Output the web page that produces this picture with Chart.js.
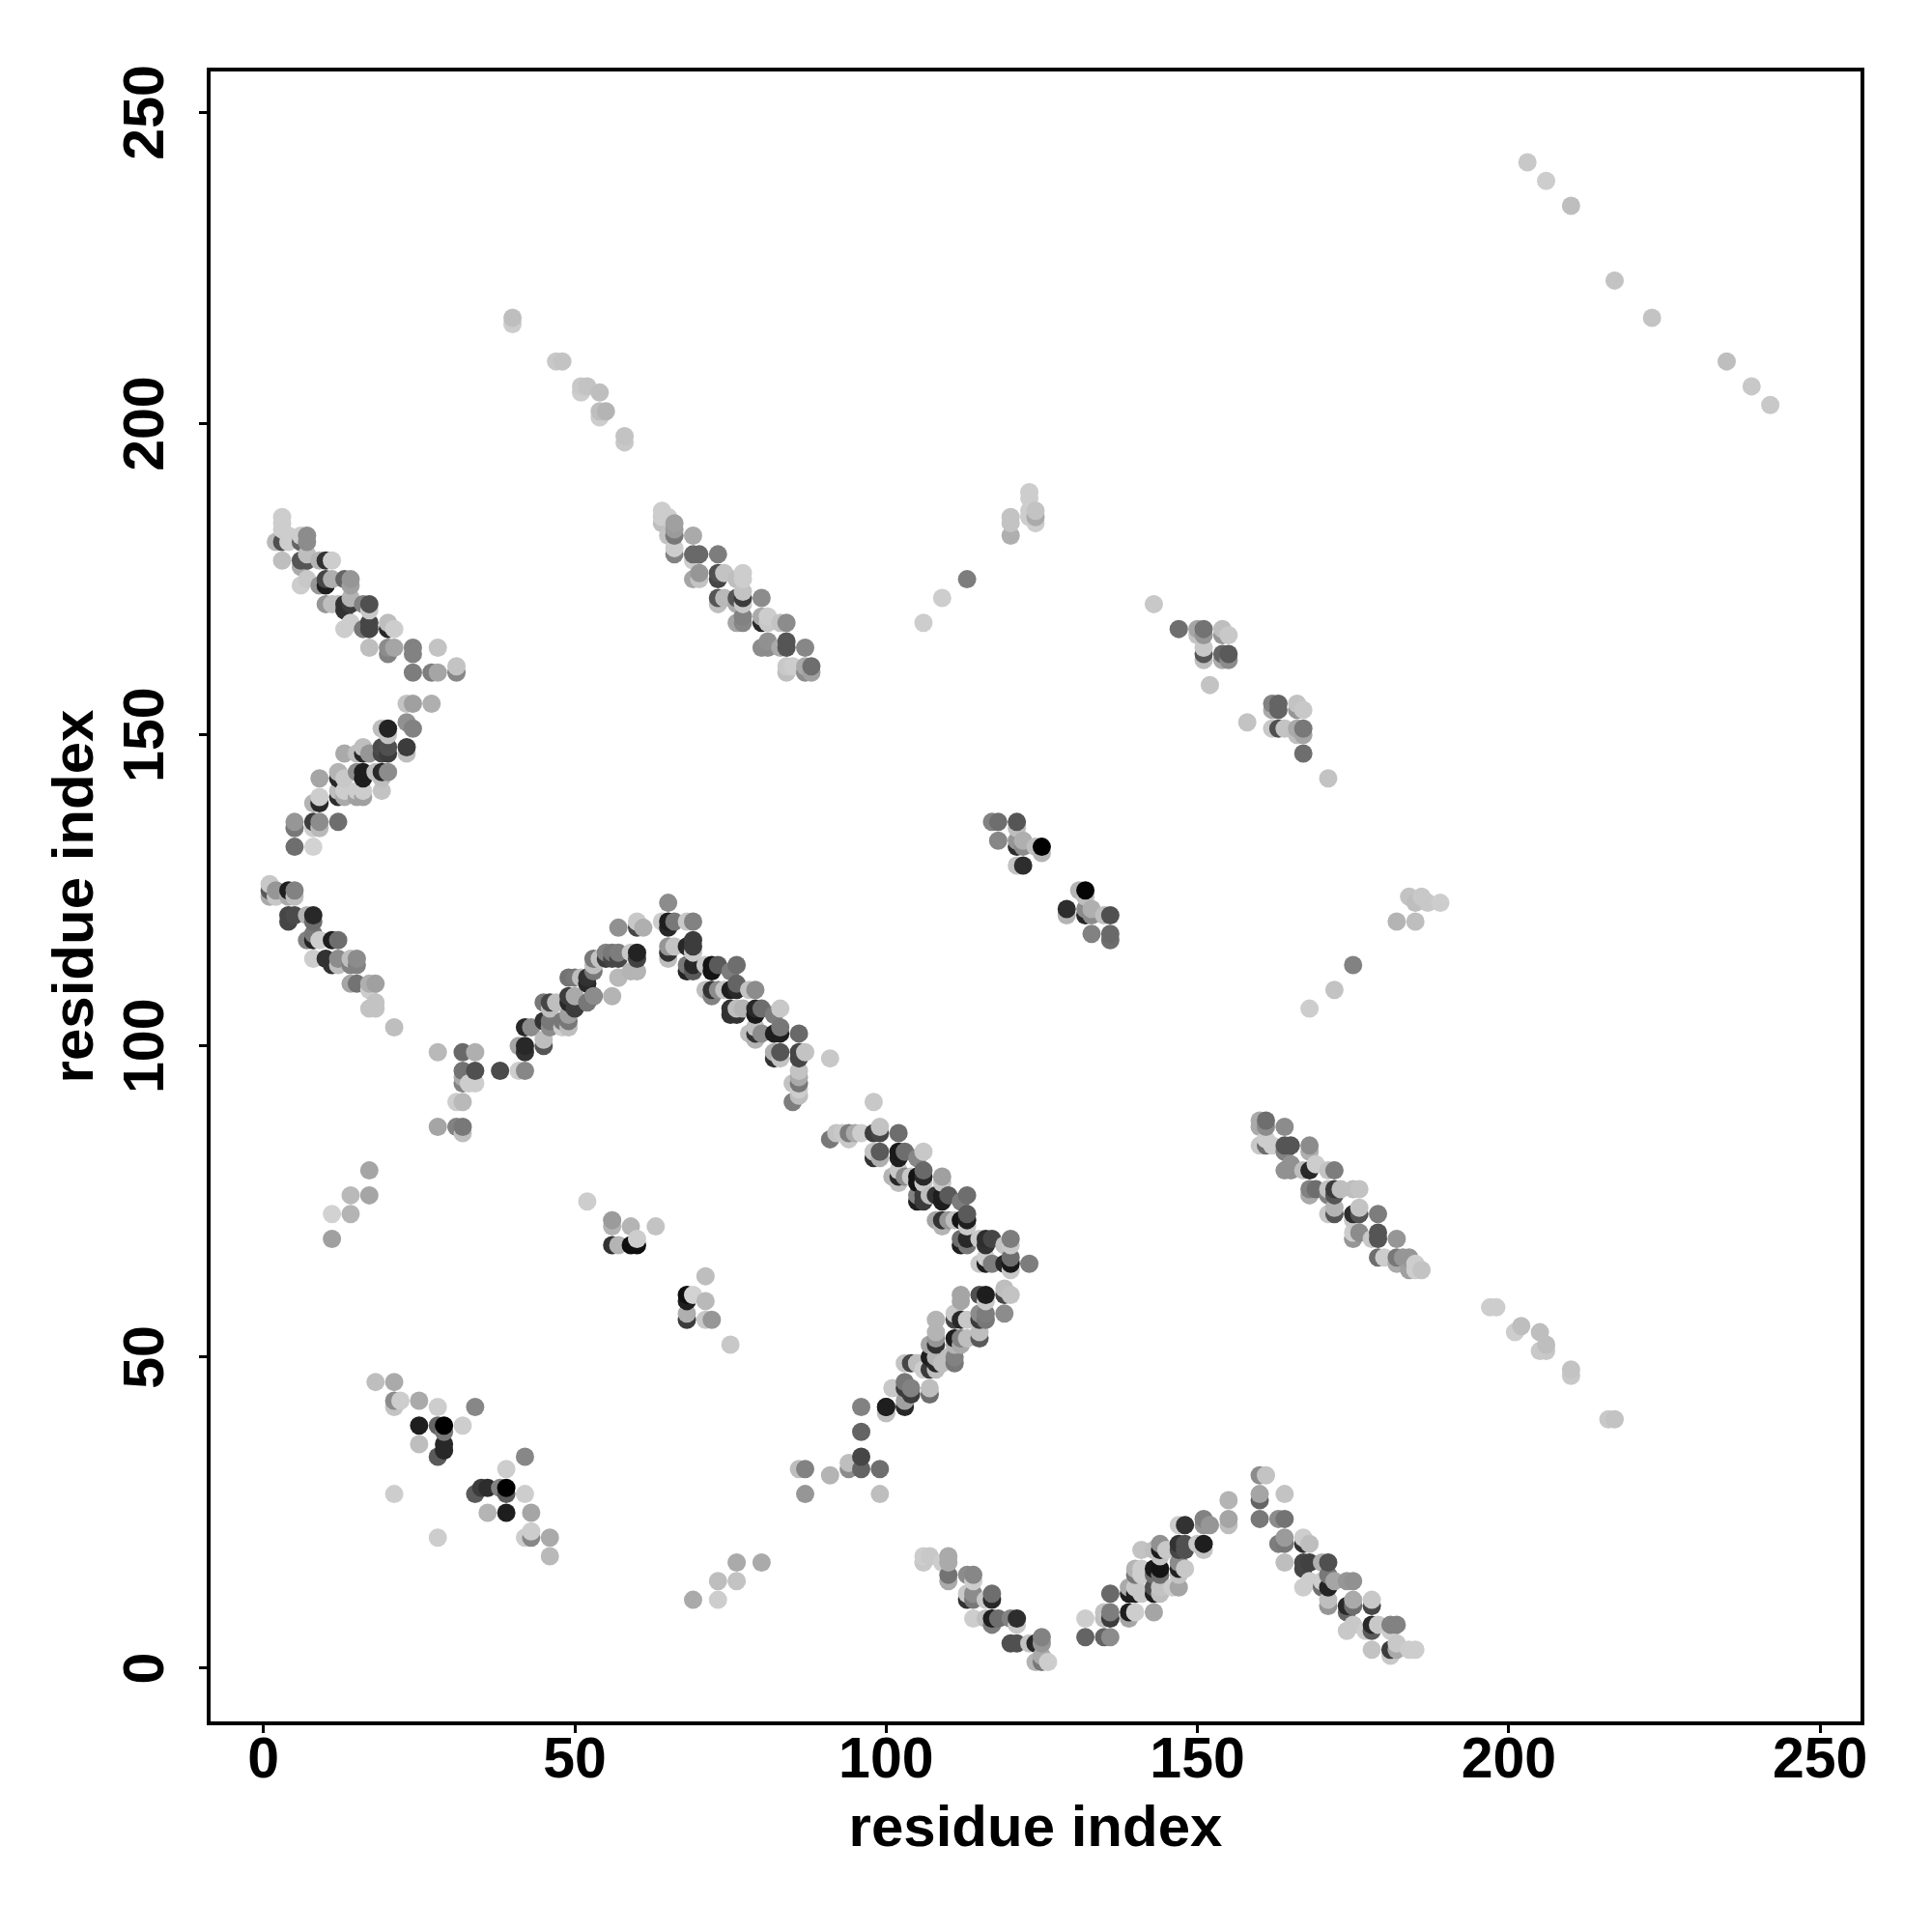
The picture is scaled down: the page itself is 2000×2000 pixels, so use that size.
<!DOCTYPE html>
<html><head><meta charset="utf-8"><style>html,body{margin:0;padding:0;background:#fff}canvas{display:block}</style>
<script src="https://cdn.jsdelivr.net/npm/chart.js@4/dist/chart.umd.min.js"></script></head>
<body><canvas id="c" width="2000" height="2000"></canvas>
<script>
const tickValues=[0,50,100,150,200,250];
const axisTitle="residue index";
// each region: residue i, residue j, signal (grey level of the contact)
const topLeftI=[3,3,3,2,3,4,4,7,7,6, 6,3,6,7,7,6,10,9,11,6, 7,9,10,10,11,13,14,14,10,11, 12,13,13,14,14,16,17,17,13,14, 16,17,17,20,20,21,17,20,20,21, 24,24,28,24,27,28,31,31];
const topLeftJ=[185,184,183,181,181,182,181,182,181,182, 181,178,178,178,179,177,178,178,178,174, 175,174,174,175,175,175,175,174,171,171, 171,171,170,171,172,171,171,170,167,168, 167,168,167,168,167,167,164,164,163,164, 164,163,164,160,160,160,161,160];
const topLeftS=[205,205,205,185,80,205,205,140,140,205, 100,190,85,85,190,170,50,180,205,205, 200,150,30,70,175,100,150,160,150,190, 190,50,50,60,180,130,80,200,205,205, 120,70,70,190,40,205,190,140,130,165, 130,130,195,125,125,165,195,135];

const riseAI=[23,24,27,23,24,19,20,20,23,23, 19,20,20,19,16,17,15,16,13,20, 19,18,19,19,16,16,15,16,16,15, 15,12,12,13,13,12,13,12,9,9, 9,8,5,5,8,9,8,9,12,5, 8];
const riseAJ=[155,155,155,152,151,151,151,150,148,147, 148,148,147,147,148,147,147,147,147,144, 144,144,141,143,144,143,144,141,140,141, 140,144,143,143,141,141,140,140,143,140, 139,139,136,135,136,136,135,135,136,132, 132];
const riseAS=[195,160,175,145,130,190,35,195,60,190, 75,80,60,70,190,150,190,40,170,140, 40,190,195,190,30,30,140,205,160,205, 160,180,40,200,205,190,170,45,165,205, 40,180,150,120,60,140,205,185,110,110, 210];

const fallAI=[1,1,1,2,2,4,4,5,5,4, 4,5,7,8,8,7,8,8,9,8, 11,12,10,11,12,12,14,15,15,14, 14,15,17,18,17,18,17,18,21];
const fallAJ=[126,125,124,125,124,125,124,125,124,121, 120,121,121,121,120,117,118,117,117,114, 117,117,114,113,114,113,114,114,113,113, 110,110,110,110,109,107,106,106,103];
const fallAS=[200,90,170,150,200,30,170,130,190,70, 70,75,180,40,110,130,120,35,205,205, 30,110,50,50,140,190,190,140,130,130, 165,115,175,160,205,195,195,195,190];

const midAI=[28,32,34,32,34,32,32,33,34,31, 32,28,31,32,32,38,41,42,41,42, 42,42,43,45,45,45,46,46,45,46, 46,47,48,48,49,49,49,49,50,50, 49,49,50,52,53,53,52,53,53,53, 54,51,52];
const midAJ=[99,99,99,96,96,95,94,94,94,91, 91,87,87,87,86,96,96,96,100,100, 99,103,103,101,100,104,104,103,107,107, 106,107,104,103,104,103,105,107,106,108, 108,111,111,107,108,108,110,112,113,114, 114,111,111];
const midAS=[185,105,175,115,80,170,130,205,205,205, 185,165,130,120,190,75,205,135,165,40, 50,40,140,190,85,50,120,140,120,70, 190,190,120,205,120,190,160,40,60,170, 60,115,120,120,60,140,40,120,190,120, 195,190,50];

const peakAI=[56,57,57,59,60,56,56,57,57,55, 55,59,60,60,57,60,60,61,65,64, 65,65,66,68,69,65,65,66,65,68, 69,69,69,68,68,69,69,71,72,72, 73,71,72,72,73];
const peakAJ=[108,111,111,112,112,115,114,115,114,115, 114,115,115,114,119,120,119,119,123,120, 120,119,120,120,120,116,115,116,114,116, 117,116,115,113,112,113,112,113,113,112, 113,109,109,108,109];
const peakAS=[180,205,185,180,180,120,70,125,70,130, 60,200,35,65,145,200,70,175,140,205, 30,40,120,200,130,150,50,195,190,40, 60,60,200,120,35,40,90,200,20,20, 90,190,50,130,140];

const fallBI=[76,75,74,75,76,76,78,79,75,75, 76,76,77,79,79,80,83,82,78,79, 79,80,79,82,83,83,86,82,82,83, 83,86,86,87,91,86,86,86,85,86, 86,85];
const fallBJ=[113,112,109,109,110,109,109,109,106,105, 106,105,106,106,105,106,106,105,102,103, 102,102,101,102,103,102,102,99,98,99, 98,99,98,99,98,96,95,94,94,93, 92,91];
const fallBS=[110,125,195,30,100,40,195,140,50,50, 190,50,180,40,25,110,200,125,190,190, 50,140,180,30,120,30,105,175,50,85, 195,70,70,195,200,195,170,120,195,205, 190,125];

const fallCI=[98,91,92,93,94,94,95,96,98,99, 99,102,98,98,99,99,102,102,103,106, 105,101,102,102,103,102,104,105,105,106, 106,106,109,109,105,105,106,106,107,108, 109,109,110,112,113,108,109,109,110,111, 112,113,113,113,112,112,113,113,115,116, 116,117,120,120,119,115,116,116,117,119, 120,120,120,123];
const fallCJ=[91,85,86,86,85,86,86,86,86,87, 86,86,83,82,83,82,83,82,83,83, 82,79,80,79,79,78,79,79,78,80, 79,78,79,78,76,75,76,75,76,76, 76,75,76,75,76,72,72,71,72,72, 72,73,72,71,69,68,69,68,69,69, 68,69,69,68,68,65,65,66,65,65, 66,65,64,65];
const fallCS=[200,120,195,200,200,125,170,205,60,195, 70,110,195,50,90,175,25,30,110,200, 135,180,200,40,140,190,200,20,20,105, 40,200,160,200,130,30,60,60,190,50, 30,30,90,125,110,165,50,180,150,190, 20,90,30,200,110,30,40,120,200,45, 50,70,125,200,195,200,30,205,125,40, 110,25,200,125];

const riseBI=[112,112,115,116,116,119,119,120,119,108, 111,111,112,113,115,115,116,116,115,115, 107,108,108,111,112,112,113,103,103,100, 100,103,103,104,104,101,107,107,107,106, 105,104,103,105,108,107,108,108,109,110, 111,111,111,108,96,100,100,96,96,96, 94,99,99,94,91,87,86,87];
const riseBJ=[60,59,60,60,59,61,60,60,57,56, 57,56,56,56,57,56,57,56,54,53, 52,53,52,53,53,52,53,43,42,42, 41,46,45,45,44,45,48,45,44,48, 49,49,49,49,48,50,50,49,49,50, 50,49,52,54,42,42,41,38,34,32, 33,32,28,32,31,32,32,28];
const riseBS=[165,165,80,30,200,190,70,195,140,180, 200,70,40,200,140,60,125,120,190,90, 165,150,50,30,130,170,190,160,40,30, 190,120,60,130,60,200,60,190,110,205, 205,70,195,190,190,30,180,40,190,190, 130,120,180,180,130,30,190,100,70,100, 190,110,190,140,180,130,190,150];

const fallDI=[106,106,107,110,110,109,110,110,113,114, 114,113,113,114,114,117,117,116,114,116, 117,117,118,120,121,121,120,121,123,124, 125,125,124,125,125,126];
const fallDJ=[18,17,18,18,17,17,15,14,15,15, 14,11,12,12,11,12,11,11,8,8, 8,7,8,8,8,7,4,4,4,4, 5,4,1,2,1,1];
const fallDS=[205,200,200,170,170,205,115,170,140,135, 205,50,200,140,120,110,40,200,205,190, 30,125,110,130,45,200,80,80,195,40, 130,150,180,170,120,205];

const riseCI=[132,135,136,132,135,135,136,136,139,139, 140,143,136,139,139,140,140,141,143,143, 144,144,147,146,140,140,141,141,143,144, 143,144,147,147,148,147,141,143,144,144, 145,144,147,147,148,148,150,151,151,147, 148,151,151,152,155,155,155];
const riseCJ=[5,5,5,8,9,8,9,8,9,8, 9,9,12,13,12,13,12,12,13,12, 13,12,13,13,16,15,16,15,16,16, 15,15,17,16,16,15,19,19,20,19, 19,18,20,19,20,19,20,20,19,23, 23,24,23,23,27,24,23];
const riseCS=[100,100,140,205,195,190,125,60,30,165, 205,165,105,170,30,200,30,200,80,30, 195,190,165,205,180,120,205,205,25,20, 110,110,140,35,200,195,195,190,145,30, 200,195,50,70,80,80,200,30,195,205, 50,130,150,150,180,165,190];

const fallEI=[160,161,160,160,164,160,163,164,163,164, 164,167,167,168,164,167,168,167,167,168, 171,170,170,171,170,171,172,171,171,174, 175,175,174,175,174,178,178,174,175,177, 178,178,179,181,182,181,178,181,181,182, 182,184,185];
const fallEJ=[31,31,28,27,28,24,24,24,20,21, 20,21,20,20,17,17,17,16,13,14, 17,17,14,15,13,13,14,11,10,14, 14,11,10,10,9,11,10,6,7,6, 7,6,7,7,7,6,3,3,2,4, 3,3,3];
const fallES=[140,195,165,100,195,120,140,115,125,155, 120,205,50,190,190,70,65,70,205,205, 80,175,205,120,110,35,165,190,150,150, 145,170,40,110,100,200,70,200,200,205, 40,90,200,130,130,205,195,60,200,200, 170,205,205];

const fallFI=[160,161,160,161,164,160,161,161,162,164, 165,164,164,165,165,168,168,167,168,169, 171,172,168,169,168,171,171,172,172,173, 175,176,171,172,172,175,176,176,175,179];
const fallFJ=[88,88,87,87,87,84,84,85,84,84, 84,83,80,80,81,84,83,80,80,81, 80,80,77,77,76,77,76,77,76,77, 77,77,73,74,73,73,74,73,72,73];
const fallFS=[170,110,170,140,140,200,110,205,205,85, 85,130,145,145,145,140,175,190,40,205, 195,125,130,110,170,195,130,60,85,190, 190,195,200,180,85,45,195,85,200,125];

const fallGI=[175,175,176,178,179,179,182,179,180,182, 182,183,184,184,185,186,185];
const fallGJ=[70,69,70,69,70,69,69,66,66,66, 65,66,66,64,65,64,64];
const fallGS=[205,150,140,200,85,85,150,110,205,120, 170,150,150,160,205,195,205];

const clusterHI=[147,150,150,151,151,154,154,155,151,151, 151,154,155,154,155,152,158,162,162,163, 163,166,166,167,162,163,164,166,167,167, 166,167,171,143,168,172,175];
const clusterHJ=[167,167,166,167,166,167,166,166,164,163, 162,163,163,162,162,158,152,155,154,155, 154,155,154,154,151,151,151,151,151,150, 150,147,143,171,106,109,113];
const clusterHS=[110,165,195,115,150,190,150,200,200,85, 190,100,90,170,140,195,195,130,170,100, 100,195,150,200,200,80,195,170,120,165, 190,110,195,200,205,195,130];

const clusterII=[117,118,121,121,118,121,121,122,122,124, 125,125,121,122,131,132,132,129,129,132, 132,133,133,135,136,133,136,136];
const clusterIJ=[136,136,136,135,133,133,132,133,132,132, 132,131,129,129,125,125,124,122,121,122, 121,122,121,121,121,118,118,117];
const clusterIS=[130,110,85,190,135,150,45,175,140,190, 0,180,195,45,180,5,190,45,180,140, 40,175,140,190,80,130,105,110];

const midBI=[64,64,64,65,66,66,66,65,69,66, 66,69,70,69,73,69,70,70,73,73, 74,76,77,77,77,73,73,74,76,76, 77,80,77,76,77,77,80,80,81,81, 83,84,80,81,81,83,84,84,87,84, 84,85,87,87,88,88];
const midBJ=[186,185,184,185,184,183,182,182,182,180, 179,179,179,178,179,175,176,175,176,175, 176,175,176,175,173,172,171,172,172,171, 172,172,171,168,169,168,169,168,169,168, 168,168,164,165,164,164,165,164,164,161, 160,161,160,161,161,160];
const midBS=[205,205,190,205,160,155,120,195,170,205, 130,105,105,205,125,165,150,195,80,70, 195,190,205,205,195,85,190,185,85,170, 60,140,200,165,130,135,170,40,205,200, 195,140,140,145,140,170,85,85,135,200, 190,205,140,170,110,160];

const upperI=[106,109,113,120,120,120,123,123,123,124, 124,124,123, 40,40,47,48,51,52,51, 54,54,55,54,58,58, 203,206,210,217,223,235,239, 242];
const upperJ=[168,172,175,185,184,182,189,188,186,186, 185,184,185, 217,216,210,210,206,206,205, 205,202,202,201,198,197, 242,239,235,223,217,210,206, 203];
const upperS=[205,205,125,195,195,175,205,205,205,195, 170,205,205, 190,205,200,195,200,195,205, 190,190,180,205,195,200, 200,205,190,195,195,190,200, 200];

const lowerRightI=[197,198,201,202,205,205,206,206,210,210, 216,217,182,185,184,185,186,187,189];
const lowerRightJ=[58,58,54,55,54,51,51,52,48,47, 40,40,120,120,124,123,124,123,123];
const lowerRightS=[205,205,205,190,190,200,200,190,195,200, 200,195,180,190,195,190,200,200,205];

const lowerLeftI=[18,21,21,21,22,25,28,34,25,28, 29,29,32,25,29,29,28,42,39,34, 35,36,38,39,39,42,21,36,39,43, 28,42,43,43,46,46];
const lowerLeftJ=[46,46,43,42,43,43,42,42,39,39, 39,38,39,36,36,35,34,34,32,28, 29,29,29,29,28,28,28,25,25,25, 21,21,22,21,21,18];
const lowerLeftS=[190,170,140,195,205,170,205,135,30,100, 0,120,205,190,40,40,90,135,205,90, 60,45,130,0,90,205,205,180,30,165, 205,205,205,135,170,185];

const looseI=[17,14,17,11,14,11,52,56,56,59, 63,56,57,59,60,60,71,68,68,69, 71,68,68,71,72,75,69,73,76,80, 76,73];
const looseJ=[80,76,76,73,73,69,75,72,71,71, 71,68,68,68,68,69,63,60,59,60, 59,57,56,56,56,52,11,14,17,17, 14,11];
const looseS=[165,185,165,210,180,160,205,155,180,180, 195,50,180,15,15,205,190,15,30,210, 185,175,60,200,150,200,170,190,170,170, 195,205];

const regions=[[topLeftI,topLeftJ,topLeftS],[riseAI,riseAJ,riseAS],[fallAI,fallAJ,fallAS],[midAI,midAJ,midAS],[peakAI,peakAJ,peakAS],[fallBI,fallBJ,fallBS],[fallCI,fallCJ,fallCS],[riseBI,riseBJ,riseBS],[fallDI,fallDJ,fallDS],[riseCI,riseCJ,riseCS],[fallEI,fallEJ,fallES],[fallFI,fallFJ,fallFS],[fallGI,fallGJ,fallGS],[clusterHI,clusterHJ,clusterHS],[clusterII,clusterIJ,clusterIS],[midBI,midBJ,midBS],[upperI,upperJ,upperS],[lowerRightI,lowerRightJ,lowerRightS],[lowerLeftI,lowerLeftJ,lowerLeftS],[looseI,looseJ,looseS]];
const points=[];
regions.forEach((r,k)=>{
  if(r[0].length!==r[1].length||r[0].length!==r[2].length) throw new Error("length mismatch in region "+k+": "+r[0].length+","+r[1].length+","+r[2].length);
  r[0].forEach((v,i)=>points.push({x:v,y:r[1][i],s:r[2][i]}));
});
points.sort((a,b)=>a.x-b.x||a.y-b.y);

const font={family:"'Liberation Sans'",weight:"bold",size:59};
const titleFont={family:"'Liberation Sans'",weight:"bold",size:60,lineHeight:1.2};
const frame={id:"frame",afterDatasetsDraw(c){const a=c.chartArea,g=c.ctx;g.save();g.strokeStyle="#000";g.lineWidth=4;g.strokeRect(a.left,a.top,a.right-a.left,a.bottom-a.top);g.restore();}};
function setTicks(s){s.ticks=tickValues.map(v=>({value:v}));}
new Chart(document.getElementById("c"),{
  type:"scatter",
  data:{datasets:[{data:points,pointRadius:9.5,pointHoverRadius:9.5,borderWidth:0,pointBorderWidth:0,
    pointBackgroundColor:c=>{const s=c.raw?c.raw.s:0;return `rgb(${s},${s},${s})`;}}]},
  plugins:[frame],
  options:{responsive:false,animation:false,
    layout:{padding:{left:0,top:72,right:72,bottom:0}},
    plugins:{legend:{display:false},tooltip:{enabled:false}},
    scales:{
      x:{type:"linear",min:-8.8,max:256.8,afterBuildTicks:setTicks,afterFit(s){s.height=216;},
        grid:{display:true,drawOnChartArea:false,drawTicks:true,tickLength:10,color:"#000",lineWidth:3},
        border:{display:true,color:"#000",width:3},
        ticks:{color:"#000",font,padding:-6,maxRotation:0,minRotation:0,autoSkip:false},
        title:{display:true,text:axisTitle,color:"#000",font:titleFont,padding:{top:0,bottom:70}}},
      y:{type:"linear",min:-8.85,max:256.9,afterBuildTicks:setTicks,afterFit(s){s.width=216;},
        grid:{display:true,drawOnChartArea:false,drawTicks:true,tickLength:10,color:"#000",lineWidth:3},
        border:{display:true,color:"#000",width:3},
        ticks:{color:"#000",font,padding:4,minRotation:90,maxRotation:90,crossAlign:"center",autoSkip:false},
        title:{display:true,text:axisTitle,color:"#000",font:titleFont,padding:{top:43,bottom:0}}}
    }
  }
});
</script></body></html>
